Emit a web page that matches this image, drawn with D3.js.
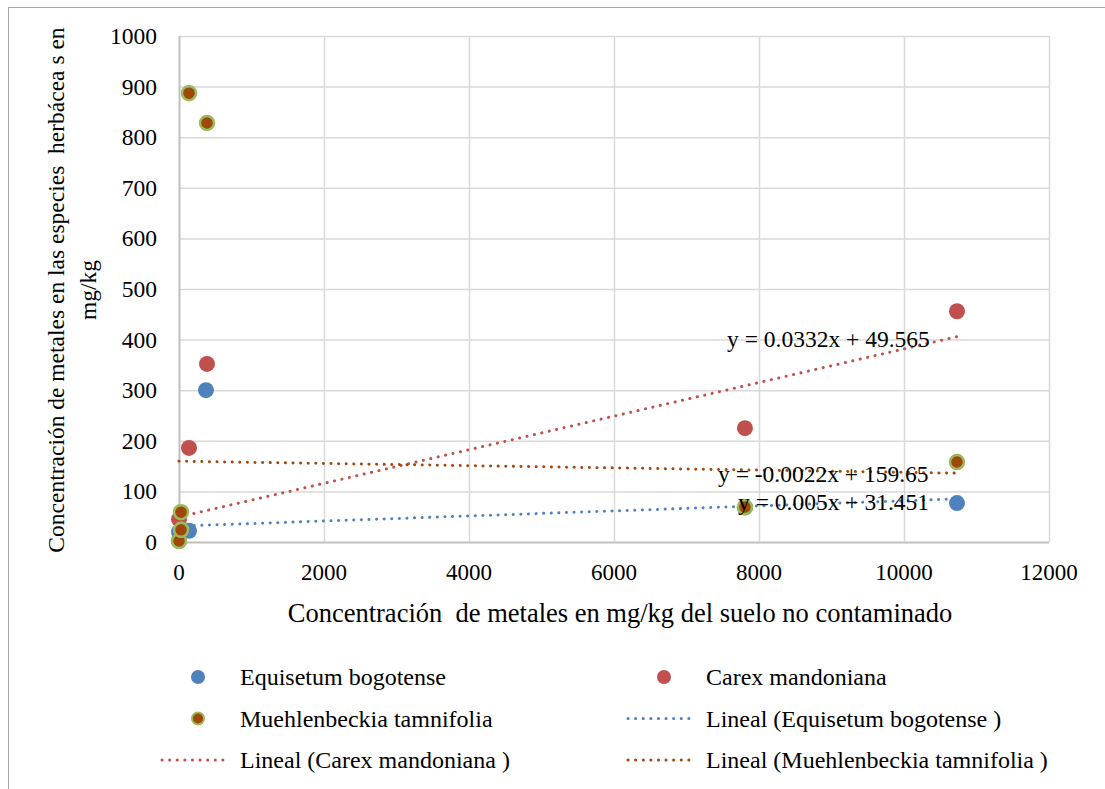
<!DOCTYPE html>
<html>
<head>
<meta charset="utf-8">
<script src="https://cdn.jsdelivr.net/npm/d3@7/dist/d3.min.js"></script>
<style>
body{margin:0;background:#fff;}
text{font-family:"Liberation Serif","Times New Roman",serif;fill:#000;white-space:pre;}
</style>
</head>
<body>
<script>
// series: [x, y]
const equisetum=[[0,2],[0,20],[138,22],[372,300],[7806,68],[10731,77]];
const carex=[[0,45],[138,186],[386,352],[7806,225],[10731,456]];
const muehlen=[[0,2],[28,24],[28,59],[138,887],[386,828],[7806,69],[10731,158]];
// trend lines (slope, intercept) as printed on the chart
const trends=[
  {name:"Equisetum bogotense",m:0.005,b:31.451,label:"y = 0.005x + 31.451"},
  {name:"Carex mandoniana",m:0.0332,b:49.565,label:"y = 0.0332x + 49.565"},
  {name:"Muehlenbeckia tamnifolia",m:-0.0022,b:159.65,label:"y = -0.0022x + 159.65"}
];
const xTicks=[0,2000,4000,6000,8000,10000,12000];
const yTicks=[0,100,200,300,400,500,600,700,800,900,1000];

const blue="#4F81BD",red="#C0504D",brown="#9E480E",green="#9BBB59";

const W=1105,H=789;
const svg=d3.select('body').append('svg').attr('width',W).attr('height',H);

svg.append('rect').attr('x',8.5).attr('y',7.5).attr('width',1110).attr('height',800)
  .attr('fill','none').attr('stroke','#a6a6a6');

const x=d3.scaleLinear().domain([0,12000]).range([179,1049]);
const y=d3.scaleLinear().domain([0,1000]).range([542,36]);

// grid
svg.append('g').selectAll('line').data(yTicks).enter().append('line')
  .attr('x1',x(0)).attr('x2',x(12000)).attr('y1',d=>y(d)+0.5).attr('y2',d=>y(d)+0.5)
  .attr('stroke',d=>d==0?'#bfbfbf':'#d9d9d9').attr('stroke-width',d=>d==0?2:1.5);
svg.append('g').selectAll('line').data(xTicks).enter().append('line')
  .attr('y1',y(0)).attr('y2',y(1000)).attr('x1',d=>x(d)+0.5).attr('x2',d=>x(d)+0.5)
  .attr('stroke',d=>d==0?'#bfbfbf':'#d9d9d9').attr('stroke-width',d=>d==0?2:1.5);

// tick labels
svg.append('g').selectAll('text').data(yTicks).enter().append('text')
  .attr('x',157).attr('y',d=>y(d)+8).attr('text-anchor','end')
  .style('font-size','23.5px').text(d=>d);
svg.append('g').selectAll('text').data(xTicks).enter().append('text')
  .attr('x',d=>x(d)).attr('y',580).attr('text-anchor','middle')
  .style('font-size','23px').text(d=>d);

// axis titles
svg.append('text').attr('x',620).attr('y',622).attr('text-anchor','middle')
  .style('font-size','26.5px').text('Concentración  de metales en mg/kg del suelo no contaminado');
const yt=svg.append('text').attr('transform','translate(64,290) rotate(-90)')
  .attr('text-anchor','middle').style('font-size','23.5px');
yt.append('tspan').attr('x',0).attr('y',0).text('Concentración de metales en las especies  herbácea s en');
yt.append('tspan').attr('x',0).attr('y',32).text('mg/kg');

// trend lines
const trendColors=[blue,red,brown];
const trendX=[equisetum,carex,muehlen].map(s=>d3.extent(s,d=>d[0]));
svg.append('g').selectAll('line').data(trends).enter().append('line')
  .attr('x1',(d,i)=>x(trendX[i][0])).attr('x2',(d,i)=>x(trendX[i][1]))
  .attr('y1',(d,i)=>y(d.m*trendX[i][0]+d.b)).attr('y2',(d,i)=>y(d.m*trendX[i][1]+d.b))
  .attr('stroke',(d,i)=>trendColors[i]).attr('stroke-width',3)
  .attr('stroke-dasharray','0.1 7.5').attr('stroke-linecap','round');

// points
function dots(data,fill,stroke){
  svg.append('g').selectAll('circle').data(data).enter().append('circle')
    .attr('cx',d=>x(d[0])).attr('cy',d=>y(d[1])).attr('r',stroke?7:8)
    .attr('fill',fill).attr('stroke',stroke||'none').attr('stroke-width',2.5);
}
dots(equisetum,blue);
dots(carex,red);
dots(muehlen,brown,green);

// equation labels
const eqPos=[[738,510],[727,347],[718,482]];
svg.append('g').selectAll('text').data(trends).enter().append('text')
  .attr('x',(d,i)=>eqPos[i][0]).attr('y',(d,i)=>eqPos[i][1])
  .style('font-size','23.5px').text(d=>d.label);

// legend
const legendItems=[
  {t:'Equisetum bogotense',k:'dot',c:blue},
  {t:'Carex mandoniana',k:'dot',c:red},
  {t:'Muehlenbeckia tamnifolia',k:'dot',c:brown,s:green},
  {t:'Lineal (Equisetum bogotense )',k:'line',c:blue},
  {t:'Lineal (Carex mandoniana )',k:'line',c:red},
  {t:'Lineal (Muehlenbeckia tamnifolia )',k:'line',c:brown}
];
const lg=svg.append('g').selectAll('g').data(legendItems).enter().append('g')
  .attr('transform',(d,i)=>`translate(${i%2?706:240},${677+Math.floor(i/2)*41.5})`);
lg.filter(d=>d.k=='dot').append('circle').attr('cx',-42).attr('cy',0)
  .attr('r',d=>d.s?6:7).attr('fill',d=>d.c).attr('stroke',d=>d.s||'none').attr('stroke-width',2);
lg.filter(d=>d.k=='line').append('line').attr('x1',-78).attr('x2',-10).attr('y1',0).attr('y2',0)
  .attr('stroke',d=>d.c).attr('stroke-width',3).attr('stroke-dasharray','0.1 7.5').attr('stroke-linecap','round');
lg.append('text').attr('x',0).attr('y',8).style('font-size','24px').text(d=>d.t);
</script>
</body>
</html>
